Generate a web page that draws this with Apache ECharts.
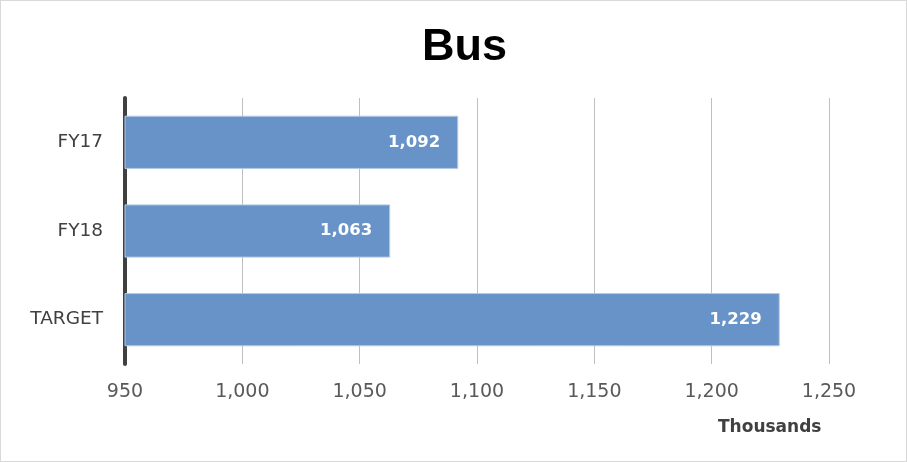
<!DOCTYPE html>
<html>
<head>
<meta charset="utf-8">
<title>Bus</title>
<style>
  html, body { margin: 0; padding: 0; background: #fff; }
  #box { width: 907px; height: 462px; box-sizing: border-box; border: 1px solid #d9d9d9; }
</style>
</head>
<body>
<div id="box"></div>
<script src="https://cdn.jsdelivr.net/npm/echarts@6/dist/echarts.min.js"></script>
<script>
var categories = ['FY17', 'FY18', 'TARGET'];
var riders = [1092, 1063, 1229];   // thousands
var axisMin = 950, axisMax = 1250, axisStep = 50;

function withCommas(v) {
  return String(Math.round(v)).replace(/\B(?=(\d{3})+(?!\d))/g, ',');
}

var chart = echarts.init(document.getElementById('box'));
chart.setOption({
  animation: false,
  title: [
    {
      text: 'Bus',
      left: 416,
      top: 19,
      textStyle: { fontFamily: 'Liberation Sans', fontWeight: 'bold', fontSize: 45, color: '#000' }
    },
    {
      text: 'Thousands',
      left: 712,
      top: 413,
      textStyle: { fontFamily: 'DejaVu Sans', fontWeight: 'bold', fontSize: 17, color: '#404040' }
    }
  ],
  grid: { left: 124, right: 77, top: 97, bottom: 97, containLabel: false },
  xAxis: {
    type: 'value',
    min: axisMin,
    max: axisMax,
    interval: axisStep,
    axisLine: { show: false },
    axisTick: { show: false },
    axisLabel: {
      margin: 19,
      fontFamily: 'DejaVu Sans',
      fontSize: 19,
      color: '#595959',
      formatter: withCommas
    },
    splitLine: { lineStyle: { color: '#bfbfbf', width: 1 } }
  },
  yAxis: {
    type: 'category',
    inverse: true,
    data: categories,
    axisLine: { lineStyle: { color: '#404040', width: 4 } },
    axisTick: { show: false },
    axisLabel: { margin: 22, fontFamily: 'DejaVu Sans', fontSize: 18.5, color: '#404040' }
  },
  series: [{
    type: 'bar',
    data: riders,
    barCategoryGap: '40%',
    itemStyle: { color: '#6893c8', borderColor: '#b4c9e4', borderWidth: 1 },
    label: {
      show: true,
      position: 'insideRight',
      distance: 18,
      fontFamily: 'DejaVu Sans',
      fontWeight: 'bold',
      fontSize: 16.5,
      color: '#fff',
      formatter: function (p) { return withCommas(p.value); }
    }
  }]
});
</script>
</body>
</html>
